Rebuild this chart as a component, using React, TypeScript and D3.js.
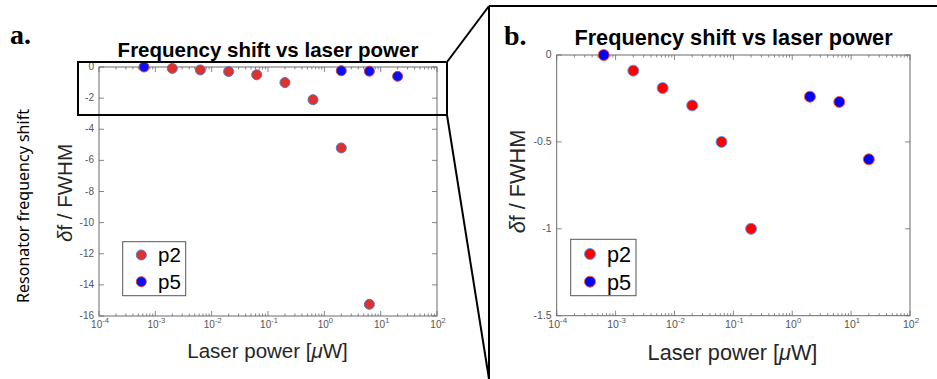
import React from "react";
import * as d3 from "d3";

// ---- data ----
const p2Power = [2e-3, 6.3e-3, 2e-2, 6.3e-2, 0.2, 0.63, 2, 6.3];
const p2Shift = [-0.09, -0.19, -0.29, -0.5, -1.0, -2.1, -5.2, -15.25];
const p5Power = [6.3e-4, 2, 6.3, 20];
const p5Shift = [0, -0.24, -0.27, -0.6];
const xTickExps = [-4, -3, -2, -1, 0, 1, 2];
const yTicksA = [0, -2, -4, -6, -8, -10, -12, -14, -16];
const yTicksB = [0, -0.5, -1, -1.5];
const seriesNames = ["p2", "p5"];
const titleText = "Frequency shift vs laser power";

const FONT = "'Liberation Sans', Arial, Helvetica, sans-serif";

type PanelProps = {
  left: number; right: number; top: number; bottom: number;
  yDomain: [number, number]; yTicks: number[];
  fs: number; tickFs: number;
  titleX: number; titleY: number;
  xlabX: number; xlabY: number;
  ylabX: number; ylabY: number;
  legend: { x0: number; y0: number; x1: number; y1: number; mx: number; my: number[]; tx: number };
  r: number;
  red: string; redEdge: string; blue: string; blueEdge: string;
  clipId: string;
};

function Panel(p: PanelProps) {
  const x = d3.scaleLog().domain([1e-4, 1e2]).range([p.left, p.right]);
  const y = d3.scaleLinear().domain(p.yDomain).range([p.bottom, p.top]);
  const minor: number[] = [];
  for (let e = -4; e < 2; e++) for (let k = 2; k <= 9; k++) minor.push(k * Math.pow(10, e));
  const axisCol = "#6a6a6a";
  const labCol = "#555";
  const majL = 5, minL = 2.5;
  const p2 = p2Power.map((v, i) => ({ x: v, y: p2Shift[i] }));
  const p5 = p5Power.map((v, i) => ({ x: v, y: p5Shift[i] }));
  const inRange = (d: { y: number }) => d.y >= p.yDomain[0] - 0.01;
  return (
    <g>
      <defs>
        <clipPath id={p.clipId}>
          <rect x={p.left - 8} y={p.top - 8} width={p.right - p.left + 16} height={p.bottom - p.top + 16} />
        </clipPath>
      </defs>
      <rect x={p.left} y={p.top} width={p.right - p.left} height={p.bottom - p.top} fill="#fff" stroke={axisCol} strokeWidth={1} />
      {minor.map((v, i) => (
        <g key={"m" + i} stroke={axisCol} strokeWidth={0.8}>
          <line x1={x(v)} x2={x(v)} y1={p.bottom} y2={p.bottom - minL} />
          <line x1={x(v)} x2={x(v)} y1={p.top} y2={p.top + minL} />
        </g>
      ))}
      {xTickExps.map((e) => {
        const xv = x(Math.pow(10, e));
        return (
          <g key={"x" + e}>
            <line x1={xv} x2={xv} y1={p.bottom} y2={p.bottom - majL} stroke={axisCol} strokeWidth={0.8} />
            <line x1={xv} x2={xv} y1={p.top} y2={p.top + majL} stroke={axisCol} strokeWidth={0.8} />
            <text x={xv + 1} y={p.bottom + p.tickFs + 1.5} textAnchor="middle" fontFamily={FONT} fontSize={p.tickFs} fill={labCol}>
              10<tspan dy={-p.tickFs * 0.45} fontSize={p.tickFs * 0.75}>{e}</tspan>
            </text>
          </g>
        );
      })}
      {p.yTicks.map((t) => (
        <g key={"y" + t}>
          <line x1={p.left} x2={p.left + majL} y1={y(t)} y2={y(t)} stroke={axisCol} strokeWidth={0.8} />
          <line x1={p.right} x2={p.right - majL} y1={y(t)} y2={y(t)} stroke={axisCol} strokeWidth={0.8} />
          <text x={p.left - 5} y={y(t)} dy="0.3em" textAnchor="end" fontFamily={FONT} fontSize={p.tickFs} fill={labCol}>
            {String(t)}
          </text>
        </g>
      ))}
      <g clipPath={`url(#${p.clipId})`}>
        {p2.filter(inRange).map((d, i) => (
          <circle key={"r" + i} cx={x(d.x)} cy={y(d.y)} r={p.r} fill={p.red} stroke={p.redEdge} strokeWidth={1} />
        ))}
        {p5.filter(inRange).map((d, i) => (
          <circle key={"b" + i} cx={x(d.x)} cy={y(d.y)} r={p.r} fill={p.blue} stroke={p.blueEdge} strokeWidth={1} />
        ))}
      </g>
      <text x={p.titleX} y={p.titleY} textAnchor="middle" fontFamily={FONT} fontWeight="bold" fontSize={p.fs} fill="#000">
        {titleText}
      </text>
      <text x={p.xlabX} y={p.xlabY} textAnchor="middle" fontFamily={FONT} fontSize={p.fs} fill="#262626">
        Laser power [<tspan fontStyle="italic">μ</tspan>W]
      </text>
      <text transform={`translate(${p.ylabX},${p.ylabY}) rotate(-90)`} textAnchor="middle" fontFamily={FONT} fontSize={p.fs} fill="#262626">
        <tspan fontStyle="italic">δ</tspan>f / FWHM
      </text>
      <rect x={p.legend.x0} y={p.legend.y0} width={p.legend.x1 - p.legend.x0} height={p.legend.y1 - p.legend.y0} fill="#fff" stroke="#555" strokeWidth={1} />
      {seriesNames.map((name, i) => (
        <g key={name}>
          <circle cx={p.legend.mx} cy={p.legend.my[i]} r={p.r} fill={i === 0 ? p.red : p.blue} stroke={i === 0 ? p.redEdge : p.blueEdge} strokeWidth={1} />
          <text x={p.legend.tx} y={p.legend.my[i]} dy="0.36em" fontFamily={FONT} fontSize={p.fs} fill="#000">
            {name}
          </text>
        </g>
      ))}
    </g>
  );
}

export default function App() {
  const W = 937, H = 379;
  return (
    <svg width={W} height={H} style={{ position: "absolute", left: 0, top: 0, background: "#fff" }}>
      <rect x={0} y={0} width={W} height={H} fill="#fff" />
      <Panel
        left={99} right={437} top={67} bottom={316}
        yDomain={[-16, 0]} yTicks={yTicksA}
        fs={20.5} tickFs={10}
        titleX={268} titleY={56.5}
        xlabX={267.5} xlabY={358}
        ylabX={71.5} ylabY={193}
        legend={{ x0: 122.7, y0: 241.7, x1: 185.7, y1: 295.7, mx: 141.3, my: [255, 281.7], tx: 158 }}
        r={5}
        red="#e2302a" redEdge="#5578c4" blue="#0a10f5" blueEdge="#d0403a"
        clipId="clipA"
      />
      <Panel
        left={556.7} right={910} top={55} bottom={315.7}
        yDomain={[-1.5, 0]} yTicks={yTicksB}
        fs={21.7} tickFs={10.5}
        titleX={733.5} titleY={45}
        xlabX={732.5} xlabY={360}
        ylabX={525} ylabY={181.5}
        legend={{ x0: 570.7, y0: 239.3, x1: 636, y1: 295.7, mx: 590, my: [254, 281.7], tx: 607 }}
        r={5.5}
        red="#ff0000" redEdge="#4aa3ff" blue="#0000ff" blueEdge="#ff5a20"
        clipId="clipB"
      />
      <text transform="translate(29,206) rotate(-90)" textAnchor="middle" fontFamily="'Noto Sans', 'Open Sans', sans-serif" fontSize={16} fill="#000">
        Resonator frequency shift
      </text>
      <text x={10} y={44} fontFamily="'Liberation Serif', 'DejaVu Serif', serif" fontWeight="bold" fontSize={28} fill="#000">a.</text>
      <text x={504} y={45} fontFamily="'Liberation Serif', 'DejaVu Serif', serif" fontWeight="bold" fontSize={28} fill="#000">b.</text>
      {/* zoom indication */}
      <g stroke="#000" strokeWidth={2} fill="none">
        <rect x={78} y={62} width={369} height={53} />
        <line x1={447} y1={62} x2={489} y2={6} />
        <line x1={447} y1={115} x2={489} y2={379} />
        <line x1={489} y1={6} x2={489} y2={379} />
        <line x1={489} y1={6} x2={937} y2={6} />
      </g>
    </svg>
  );
}
